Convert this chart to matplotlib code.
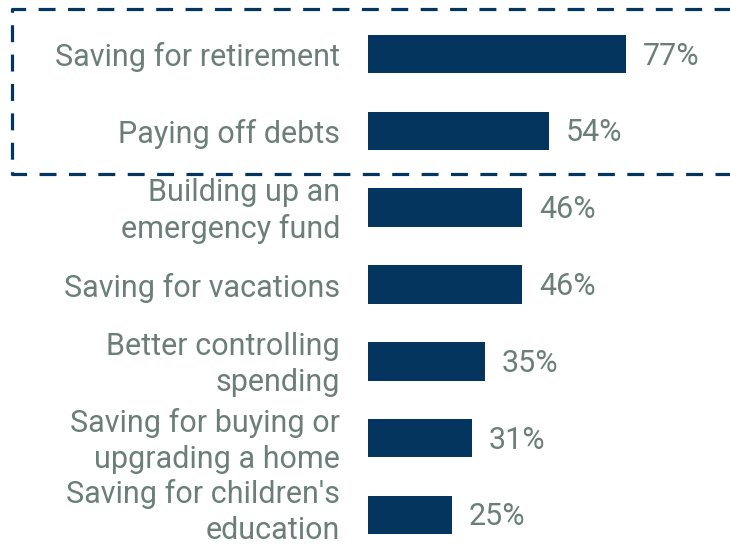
import matplotlib.pyplot as plt
from matplotlib.lines import Line2D

labels = ["Saving for retirement", "Paying off debts", "Building up an\nemergency fund",
          "Saving for vacations", "Better controlling\nspending",
          "Saving for buying or\nupgrading a home", "Saving for children's\neducation"]
values = [77, 54, 46, 46, 35, 31, 25]

navy = "#03355f"
grey = "#6b7f78"
plt.rcParams["font.family"] = ["Roboto", "DejaVu Sans"]

W, H = 730, 545
fig = plt.figure(figsize=(W / 100, H / 100), dpi=100)
ax = fig.add_axes([368 / W, 0, 1 - 368 / W, 1])

y = list(range(len(values)))
ax.barh(y, values, height=0.5, color=navy)
ax.set_xlim(0, (W - 368) / 3.345)
ax.set_ylim(6 + 30 / 76.8, -54 / 76.8)
ax.axis("off")

for i, (lab, v) in enumerate(zip(labels, values)):
    # last label sits against the bottom edge, nudge it up a bit
    dy = 3 if i == len(labels) - 1 else -3
    ax.annotate(lab, (0, i), xytext=(-28, dy), textcoords="offset pixels",
                ha="right", va="center", fontsize=22, color=grey, linespacing=1.3)
    ax.annotate(f"{v}%", (v, i), xytext=(17, -2), textcoords="offset pixels",
                ha="left", va="center", fontsize=22, color=grey)

# dashed box around the top two items
bx0, by0, by1 = 12 / W, 1 - 9 / H, 1 - 174 / H
box = Line2D([1.02, bx0, bx0, 1.02], [by0, by0, by1, by1], transform=fig.transFigure,
             color=navy, lw=2.3, linestyle=(0, (5.3, 3.9)), clip_on=False)
fig.add_artist(box)

fig.savefig("out.png", dpi=100)
